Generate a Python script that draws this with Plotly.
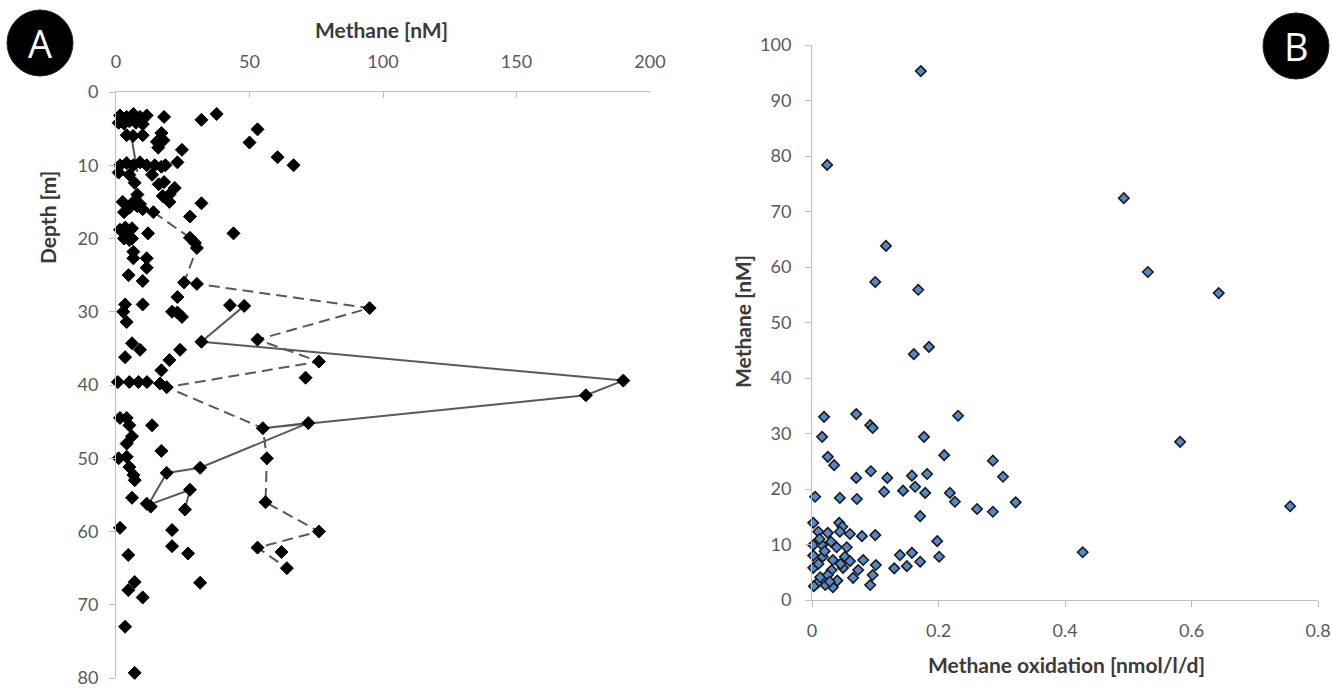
import plotly.graph_objects as go

# ---------------- Panel A: methane depth profiles ----------------
profile_methane = [
    1.5, 4, 6.5, 9, 11.5, 18, 32, 37.7,
    1, 3, 5, 7.5, 10,
    4, 6.4, 10, 17, 15.3, 17.8, 15.8, 24.7, 53, 50, 60.5, 66.5,
    1.5, 4, 6.5, 9, 11.5, 14.5, 17, 18.5, 23, 1, 5, 13.5, 7, 16, 18, 22,
    8, 17.5, 20, 2.5, 6.5, 9, 20, 32, 5, 8, 10, 3, 14, 27.7,
    1.5, 3.5, 5, 6, 12, 44, 27.7, 29.6, 30.3, 3, 5, 6, 6.5, 6.5, 11.5,
    11.5, 4.7, 10, 25.5, 30.3,
    23, 3.4, 10, 42.7, 48, 2.7, 21, 23, 24.7, 4, 32, 53, 6, 9, 24, 3.4, 20,
    76, 17, 71, 95, 0.7, 5, 8.4, 11.6, 16.5, 19, 190, 176,
    1.5, 4, 5, 13.5, 72, 55, 6, 4, 17, 1, 4, 56.5, 5, 19, 31.5, 6.5, 7,
    27.7, 6, 11.5, 13, 56, 25.8, 1.5, 21, 76, 21, 53, 62, 27, 4.6, 64,
    31.5, 7, 4.6, 10, 3.4, 7,
]
profile_depth = [
    3.2, 3.4, 3.0, 3.4, 3.2, 3.4, 3.8, 3.0,
    4.2, 4.3, 4.0, 4.2, 4.4,
    5.9, 6.0, 5.9, 5.6, 6.8, 6.6, 7.6, 7.9, 5.1, 6.9, 8.9, 10.0,
    10.0, 9.7, 10.0, 9.6, 10.0, 10.0, 10.2, 10.0, 9.6, 11.0, 11.3, 11.3, 12.4, 12.6, 12.3, 13.1,
    14.0, 14.2, 14.0, 15.0, 15.0, 15.3, 15.0, 15.2, 15.8, 15.6, 16.0, 16.4, 16.4, 17.0,
    18.8, 18.5, 19.0, 18.6, 19.3, 19.3, 19.9, 20.6, 21.3, 20.0, 20.2, 20.0, 21.8, 22.7, 22.7,
    24.0, 25.0, 25.8, 26.0, 26.2,
    28.0, 29.0, 29.0, 29.1, 29.2, 30.0, 30.0, 30.1, 30.7, 31.4, 34.1, 33.8, 34.3, 35.2, 35.2, 36.2, 36.6,
    36.8, 38.0, 39.0, 29.5, 39.6, 39.6, 39.6, 39.6, 39.8, 40.3, 39.4, 41.4,
    44.5, 44.5, 45.5, 45.5, 45.2, 45.9, 47.0, 48.0, 49.0, 50.0, 49.8, 50.0, 51.2, 52.0, 51.3, 52.3, 53.0,
    54.3, 55.4, 56.2, 56.6, 56.0, 57.0, 59.5, 59.8, 60.0, 62.0, 62.2, 62.8, 63.0, 63.2, 65.0,
    67.0, 66.9, 68.0, 69.0, 73.0, 79.3,
]

# Connected profile drawn with a solid line (None breaks the line)
solid_methane = [6, 8, None, 48, 32, 190, 176, 55, 72, 31.5, 19, 12, 27.7, 25.8]
solid_depth = [6.6, 10.9, None, 29.2, 34.1, 39.4, 41.4, 45.9, 45.2, 51.3, 52.0, 56.4, 54.3, 57.0]

# Connected profile drawn with a dashed line
dashed_methane = [14, 27.7, 29.6, 30.3, 25.5, 30.3, 95, 53, 76, 19, 55, 56.5, 56, 76, 53, 64]
dashed_depth = [16.4, 19.9, 20.6, 21.3, 26.0, 26.2, 29.5, 33.8, 36.8, 40.3, 45.9, 50.0, 56.0, 60.0, 62.2, 65.0]

# ---------------- Panel B: methane vs. methane oxidation ----------------
oxidation_rate = [
    0.172, 0.024, 0.493, 0.117, 0.531, 0.100, 0.168, 0.643, 0.161, 0.185,
    0.019, 0.070, 0.231, 0.016, 0.092, 0.096, 0.177, 0.582,
    0.025, 0.035, 0.209, 0.286, 0.302, 0.070, 0.093, 0.119, 0.158, 0.182,
    0.163, 0.114, 0.144, 0.179, 0.218, 0.005, 0.044, 0.071, 0.226, 0.322, 0.756,
    0.261, 0.286, 0.171, 0.198, 0.201, 0.139, 0.158, 0.150, 0.171, 0.130, 0.428,
    0.101, 0.096, 0.092, 0.081, 0.073, 0.100, 0.079, 0.060, 0.043, 0.048, 0.044,
    0.002, 0.010, 0.025, 0.052, 0.049, 0.033, 0.021, 0.008, 0.002, 0.017, 0.033,
    0.002, 0.016, 0.039, 0.055, 0.031, 0.013, 0.002, 0.010, 0.025, 0.040, 0.060,
    0.065, 0.012, 0.030, 0.020, 0.045, 0.003, 0.028,
]
oxidation_methane = [
    95.3, 78.4, 72.4, 63.8, 59.1, 57.3, 55.9, 55.3, 44.3, 45.6,
    33.0, 33.5, 33.2, 29.4, 31.5, 31.0, 29.4, 28.5,
    25.8, 24.3, 26.1, 25.1, 22.2, 22.0, 23.2, 22.0, 22.4, 22.7,
    20.4, 19.5, 19.7, 19.3, 19.3, 18.6, 18.4, 18.2, 17.7, 17.6, 16.9,
    16.4, 15.9, 15.1, 10.6, 7.8, 8.1, 8.5, 6.1, 6.9, 5.7, 8.6,
    6.3, 4.5, 2.7, 7.2, 5.4, 11.7, 11.5, 11.9, 13.9, 13.2, 12.3,
    13.9, 12.3, 12.1, 7.8, 5.8, 2.3, 2.7, 3.0, 5.8, 7.8, 7.2,
    9.9, 9.9, 9.5, 9.5, 5.4, 4.1, 8.0, 6.5, 4.5, 3.5, 7.0,
    4.0, 11.0, 10.5, 8.8, 6.5, 2.5, 3.3,
]

W, H = 1332, 689
FONT = "Lato"
AXIS_GREY = "#bfbfbf"
TICK_GREY = "#595959"
TITLE_COL = "#3a3a3a"
LINE_COL = "#595959"


def px_x(p):
    return p / W


def px_y(p):
    return 1 - p / H


fig = go.Figure()

fig.add_trace(go.Scatter(
    x=solid_methane, y=solid_depth, mode="lines", connectgaps=False,
    line=dict(color=LINE_COL, width=2), xaxis="x", yaxis="y",
    hoverinfo="skip", showlegend=False,
))
fig.add_trace(go.Scatter(
    x=dashed_methane, y=dashed_depth, mode="lines",
    line=dict(color=LINE_COL, width=2, dash="11px,6px"), xaxis="x", yaxis="y",
    hoverinfo="skip", showlegend=False,
))
fig.add_trace(go.Scatter(
    x=profile_methane, y=profile_depth, mode="markers",
    marker=dict(symbol="diamond", size=10, color="black",
                line=dict(color="black", width=1)),
    xaxis="x", yaxis="y", cliponaxis=False, showlegend=False,
))
fig.add_trace(go.Scatter(
    x=oxidation_rate, y=oxidation_methane, mode="markers",
    marker=dict(symbol="diamond", size=8, color="#5289cc",
                line=dict(color="#1a1a1a", width=1.6)),
    xaxis="x2", yaxis="y2", cliponaxis=False, showlegend=False,
))

axis_common = dict(
    showgrid=False, zeroline=False, showline=True, linecolor=AXIS_GREY,
    linewidth=1, tickcolor=AXIS_GREY, ticklen=6, tickwidth=1, automargin=False,
    tickfont=dict(family=FONT, size=18, color=TICK_GREY),
)

fig.update_layout(
    width=W, height=H,
    margin=dict(l=0, r=0, t=0, b=0),
    paper_bgcolor="white", plot_bgcolor="white",
    xaxis=dict(domain=[px_x(116), px_x(650)], range=[0, 200], side="top",
               tickvals=[0, 50, 100, 150, 200], ticks="inside", anchor="y",
               ticklabelstandoff=16, **axis_common),
    yaxis=dict(domain=[px_y(678), px_y(92)], range=[80, 0],
               tickvals=list(range(0, 81, 10)), ticks="outside", anchor="x",
               ticklabelstandoff=7, **axis_common),
    xaxis2=dict(domain=[px_x(812), px_x(1318)], range=[0, 0.8],
                tickvals=[0, 0.2, 0.4, 0.6, 0.8], ticktext=["0", "0.2", "0.4", "0.6", "0.8"],
                ticks="outside", anchor="y2", ticklabelstandoff=8, **axis_common),
    yaxis2=dict(domain=[px_y(600), px_y(45)], range=[0, 100],
                tickvals=list(range(0, 101, 10)), ticks="outside", anchor="x2",
                ticklabelstandoff=10, **axis_common),
)

title_font = dict(family=FONT, size=21, color=TITLE_COL)
centered = dict(xref="paper", yref="paper", showarrow=False,
                xanchor="center", yanchor="middle")
fig.add_annotation(x=px_x(381), y=px_y(30), text="<b>Methane [nM]</b>",
                   font=title_font, **centered)
fig.add_annotation(x=px_x(47), y=px_y(218), text="<b>Depth [m]</b>",
                   textangle=-90, font=title_font, **centered)
fig.add_annotation(x=px_x(742), y=px_y(322), text="<b>Methane [nM]</b>",
                   textangle=-90, font=title_font, **centered)
fig.add_annotation(x=px_x(1066), y=px_y(664), text="<b>Methane oxidation [nmol/l/d]</b>",
                   font=title_font, **centered)

# Panel badges
for cx, cy, label in [(40, 43, "A"), (1296, 46, "B")]:
    r = 33
    fig.add_shape(type="circle", xref="paper", yref="paper",
                  x0=px_x(cx - r), x1=px_x(cx + r), y0=px_y(cy + r), y1=px_y(cy - r),
                  fillcolor="black", line=dict(color="#222", width=1))
    fig.add_annotation(x=px_x(cx), y=px_y(cy), text=label,
                       font=dict(family="Open Sans", size=38, color="white"),
                       **centered)

fig.write_html("out.html")
